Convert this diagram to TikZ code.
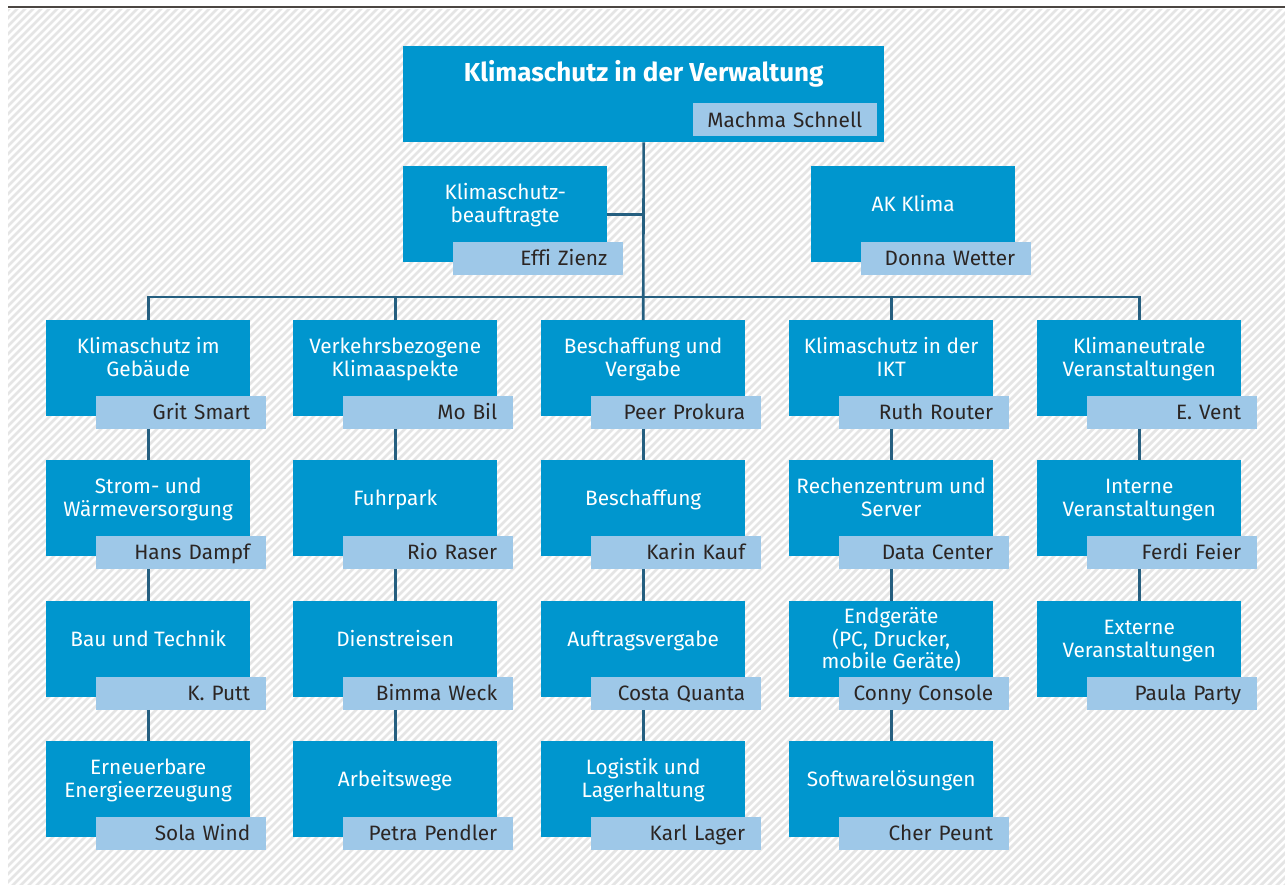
\documentclass[tikz,border=0pt]{standalone}
\usepackage{fontspec}
\setmainfont{Fira Sans}[Ligatures=NoCommon]
\usetikzlibrary{calc}
\definecolor{kblue}{HTML}{0096CE}
\definecolor{klight}{HTML}{9EC8E8}
\definecolor{kline}{HTML}{255F80}
\definecolor{kname}{HTML}{2B2523}
\definecolor{ktop}{HTML}{4B4642}
\tikzset{
  box/.style={fill=kblue, minimum width=204pt, minimum height=96pt, inner sep=0pt, anchor=north west},
  boxtext/.style={text=white, align=center, font=\fontsize{20.8}{22.8}\selectfont, inner sep=0pt},
  titletext/.style={text=white, font=\fontsize{26}{30}\selectfont\bfseries, inner sep=0pt},
  namebox/.style={fill=klight, text=kname, minimum height=33pt, inner ysep=0pt, inner xsep=4pt,
     text width=162pt, align=right, text height=15pt, text depth=0pt, anchor=north east,
     font=\fontsize{20.8}{22.8}\selectfont},
  conn/.style={draw=kline, line width=2.6pt},
  hatch/.style={draw=gray!20, line width=2.8pt},
}
\newcommand\orgbox[5]{%
  \node[box] (#1) at (#2,#3) {};
  \node[boxtext] (#1t) at ($(#1.north)+(0,39.5)$) {\rule{0pt}{16pt}#4\rule[-5pt]{0pt}{5pt}};
  \node[namebox] (#1n) at ($(#1.south east)+(16,-21)$) {\mbox{#5}\kern12pt};
}
\begin{document}
\begin{tikzpicture}[x=1pt,y=-1pt]
\useasboundingbox (0,0) rectangle (1285,884);
% background
\fill[white] (0,0) rectangle (1285,884);
\begin{scope}
  \clip (8,9) rectangle (1285,884);
  \foreach \a in {-880,-872,...,1290} {
    \draw[hatch] (\a,890) -- ++(890,-890);
  }
\end{scope}
\draw[ktop, line width=2pt] (8,7) -- (1285,7);

% top box
\node[box, minimum width=481pt] (top) at (403,46) {};
\node[titletext] (topt) at ($(top.north)+(0,28)$) {Klimaschutz in der Verwaltung};
\node[namebox, anchor=south east, text width=176pt] (topn) at ($(top.south east)+(-7,-6)$) {\mbox{Machma Schnell}\kern11pt};

% staff
\orgbox{kb}{403}{166}{Klimaschutz-\\beauftragte}{Effi Zienz}
\orgbox{ak}{811}{166}{AK Klima}{Donna Wetter}

% column 1
\orgbox{aa}{46}{320}{Klimaschutz im\\Gebäude}{Grit Smart}
\orgbox{ab}{46}{460}{Strom- und\\Wärmeversorgung}{Hans Dampf}
\orgbox{ac}{46}{601}{Bau und Technik}{K. Putt}
\orgbox{ad}{46}{741}{Erneuerbare\\Energieerzeugung}{Sola Wind}
% column 2
\orgbox{ba}{293}{320}{Verkehrsbezogene\\Klimaaspekte}{Mo Bil}
\orgbox{bb}{293}{460}{Fuhrpark}{Rio Raser}
\orgbox{bc}{293}{601}{Dienstreisen}{Bimma Weck}
\orgbox{bd}{293}{741}{Arbeitswege}{Petra Pendler}
% column 3
\orgbox{ca}{541}{320}{Beschaffung und\\Vergabe}{Peer Prokura}
\orgbox{cb}{541}{460}{Beschaffung}{Karin Kauf}
\orgbox{cc}{541}{601}{Auftragsvergabe}{Costa Quanta}
\orgbox{cd}{541}{741}{Logistik und\\Lagerhaltung}{Karl Lager}
% column 4
\orgbox{da}{789}{320}{Klimaschutz in der\\IKT}{Ruth Router}
\orgbox{db}{789}{460}{Rechenzentrum und\\Server}{Data Center}
\orgbox{dc}{789}{601}{Endgeräte\\(PC, Drucker,\\mobile Geräte)}{Conny Console}
\orgbox{dd}{789}{741}{Softwarelösungen}{Cher Peunt}
% column 5
\orgbox{ea}{1037}{320}{Klimaneutrale\\Veranstaltungen}{E. Vent}
\orgbox{eb}{1037}{460}{Interne\\Veranstaltungen}{Ferdi Feier}
\orgbox{ec}{1037}{601}{Externe\\Veranstaltungen}{Paula Party}

% connectors
\coordinate (bus) at (643,297);
\draw[conn] (top.south) -- (ca.north);
\draw[conn] (kb.east) -- (kb.east -| top.south);
\draw[conn] (aa.north) |- (bus) -| (ea.north);
\draw[conn] (ba.north) -- (ba.north |- bus);
\draw[conn] (da.north) -- (da.north |- bus);
\foreach \u/\v in {aa/ab,ab/ac,ac/ad,ba/bb,bb/bc,bc/bd,ca/cb,cb/cc,cc/cd,da/db,db/dc,dc/dd,ea/eb,eb/ec} {
  \draw[conn] (\u.north |- \u n.south) -- (\v.north);
}
\end{tikzpicture}
\end{document}
